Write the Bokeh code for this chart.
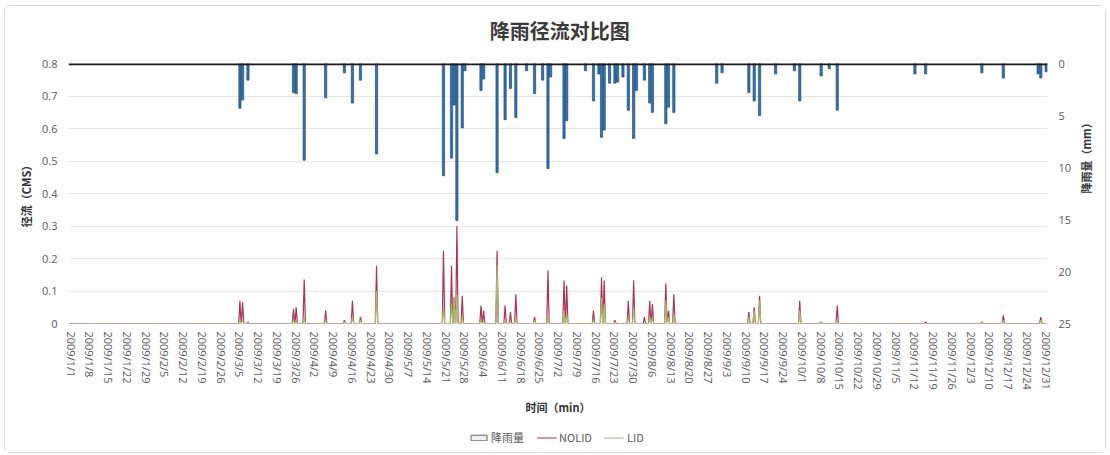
import math
from datetime import date
from bokeh.plotting import figure
from bokeh.layouts import column
from bokeh.core.properties import value
from bokeh.models import (Range1d, LinearAxis, FixedTicker, Legend, LegendItem, Span)
from bokeh.embed import file_html
from bokeh.resources import INLINE

# ---------------- data ----------------
title_text = "降雨径流对比图"

tick_labels = ["2009/1/1", "2009/1/8", "2009/1/15", "2009/1/22", "2009/1/29", "2009/2/5",
               "2009/2/12", "2009/2/19", "2009/2/26", "2009/3/5", "2009/3/12", "2009/3/19",
               "2009/3/26", "2009/4/2", "2009/4/9", "2009/4/16", "2009/4/23", "2009/4/30",
               "2009/5/7", "2009/5/14", "2009/5/21", "2009/5/28", "2009/6/4", "2009/6/11",
               "2009/6/18", "2009/6/25", "2009/7/2", "2009/7/9", "2009/7/16", "2009/7/23",
               "2009/7/30", "2009/8/6", "2009/8/13", "2009/8/20", "2009/8/27", "2009/9/3",
               "2009/9/10", "2009/9/17", "2009/9/24", "2009/10/1", "2009/10/8", "2009/10/15",
               "2009/10/22", "2009/10/29", "2009/11/5", "2009/11/12", "2009/11/19", "2009/11/26",
               "2009/12/3", "2009/12/10", "2009/12/17", "2009/12/24", "2009/12/31"]

rain_dates = ["2009/3/5", "2009/3/6", "2009/3/8", "2009/3/25", "2009/3/26", "2009/3/29",
              "2009/4/6", "2009/4/13", "2009/4/16", "2009/4/19", "2009/4/25",
              "2009/5/20", "2009/5/23", "2009/5/24", "2009/5/25", "2009/5/27", "2009/5/28",
              "2009/6/3", "2009/6/4", "2009/6/9", "2009/6/12", "2009/6/14", "2009/6/16",
              "2009/6/20", "2009/6/23", "2009/6/26", "2009/6/28", "2009/6/29",
              "2009/7/4", "2009/7/5", "2009/7/12", "2009/7/15", "2009/7/17", "2009/7/18",
              "2009/7/19", "2009/7/21", "2009/7/23", "2009/7/24", "2009/7/26", "2009/7/28",
              "2009/7/30", "2009/7/31", "2009/8/3", "2009/8/5", "2009/8/6", "2009/8/11",
              "2009/8/12", "2009/8/14", "2009/8/30", "2009/9/1", "2009/9/11", "2009/9/13",
              "2009/9/15", "2009/9/21", "2009/9/28", "2009/9/30", "2009/10/8", "2009/10/11",
              "2009/10/14", "2009/11/12", "2009/11/16", "2009/12/7", "2009/12/15",
              "2009/12/28", "2009/12/29", "2009/12/31"]
rain_mm = [4.3, 3.5, 1.6, 2.8, 2.9, 9.3,
           3.3, 0.9, 3.8, 1.6, 8.7,
           10.8, 9.1, 4.0, 15.1, 6.2, 0.7,
           2.6, 1.5, 10.5, 5.4, 2.4, 5.2,
           0.7, 2.9, 1.6, 10.1, 1.3,
           7.2, 5.5, 0.7, 3.6, 1.0, 7.1,
           6.4, 1.9, 1.9, 1.8, 1.3, 4.5,
           7.2, 2.6, 1.6, 3.8, 4.7, 5.8,
           4.2, 4.7, 1.9, 0.9, 2.8, 3.6,
           5.0, 1.0, 0.7, 3.6, 1.2, 0.5,
           4.5, 1.0, 1.0, 0.9, 1.4,
           1.0, 1.4, 0.8]

runoff_dates = ["2009/3/5", "2009/3/6", "2009/3/8", "2009/3/25", "2009/3/26", "2009/3/29",
                "2009/4/6", "2009/4/13", "2009/4/16", "2009/4/19", "2009/4/25",
                "2009/5/20", "2009/5/23", "2009/5/24", "2009/5/25", "2009/5/27",
                "2009/6/3", "2009/6/4", "2009/6/9", "2009/6/12", "2009/6/14", "2009/6/16",
                "2009/6/23", "2009/6/28", "2009/7/4", "2009/7/5", "2009/7/15", "2009/7/18",
                "2009/7/19", "2009/7/23", "2009/7/28", "2009/7/30", "2009/8/3", "2009/8/5",
                "2009/8/6", "2009/8/11", "2009/8/12", "2009/8/14", "2009/9/11", "2009/9/13",
                "2009/9/15", "2009/9/30", "2009/10/8", "2009/10/14", "2009/11/16",
                "2009/12/7", "2009/12/15", "2009/12/29"]
nolid_cms = [0.070, 0.065, 0.005, 0.045, 0.050, 0.135,
             0.040, 0.010, 0.070, 0.020, 0.178,
             0.224, 0.178, 0.080, 0.300, 0.085,
             0.055, 0.040, 0.224, 0.055, 0.035, 0.090,
             0.020, 0.163, 0.132, 0.117, 0.040, 0.142,
             0.132, 0.010, 0.070, 0.132, 0.020, 0.070,
             0.060, 0.123, 0.040, 0.090, 0.035, 0.050,
             0.085, 0.070, 0.005, 0.055, 0.005,
             0.005, 0.025, 0.020]
lid_cms = [0.010, 0.010, 0.002, 0.010, 0.010, 0.020,
           0.010, 0.005, 0.020, 0.010, 0.100,
           0.050, 0.060, 0.080, 0.090, 0.020,
           0.010, 0.005, 0.180, 0.010, 0.005, 0.020,
           0.010, 0.030, 0.040, 0.030, 0.010, 0.080,
           0.060, 0.005, 0.020, 0.050, 0.000, 0.020,
           0.020, 0.070, 0.020, 0.030, 0.020, 0.040,
           0.070, 0.040, 0.003, 0.010, 0.000,
           0.003, 0.010, 0.010]

y_ticks = [0, 0.1, 0.2, 0.3, 0.4, 0.5, 0.6, 0.7, 0.8]
rain_ticks = [0, 5, 10, 15, 20, 25]


def doy(s):
    y, m, d = (int(v) for v in s.split("/"))
    return (date(y, m, d) - date(2009, 1, 1)).days


x_ticks = [doy(s) for s in tick_labels]
rain_x = [doy(s) for s in rain_dates]

# spiky runoff lines (zero between events)
lx, ny, ly = [-1.0], [0.0], [0.0]
for d, n, l in sorted(zip([doy(s) for s in runoff_dates], nolid_cms, lid_cms)):
    lx += [d - 0.45, d, d + 0.45]
    ny += [0.0, n, 0.0]
    ly += [0.0, l, 0.0]
lx.append(364.5); ny.append(0.0); ly.append(0.0)

# ---------------- styles ----------------
CJK = "Noto Sans CJK SC"
LAT = "Open Sans"
TICK_C = "#595959"
RAIN_FILL, RAIN_LINE = "#2E75B6", "#1d3d5e"
NOLID_C, LID_C = "#A83456", "#A9BA6E"
W = 1100

# ---------------- title strip ----------------
TH = 47
t = figure(width=W, height=TH, output_backend="svg", toolbar_location=None,
           x_range=Range1d(0, W), y_range=Range1d(TH, 0),
           x_axis_location=None, y_axis_location=None,
           min_border_left=0, min_border_right=0, min_border_top=0, min_border_bottom=0,
           background_fill_color="white", border_fill_color="white")
t.grid.visible = False
t.outline_line_color = None
t.text(x=[552], y=[24], text=[title_text], text_align="center", text_baseline="middle",
       text_font=value(CJK), text_font_size="20px", text_font_style="bold",
       text_color="#3a3a3a")

# ---------------- main figure ----------------
p = figure(width=W, height=373, output_backend="svg", toolbar_location=None,
           x_range=Range1d(-1.0, 364.5), y_range=Range1d(0, 0.8),
           min_border_left=63, min_border_right=52, min_border_top=10, min_border_bottom=103,
           background_fill_color="white", border_fill_color="white")
p.outline_line_color = None
p.extra_y_ranges = {"rain": Range1d(25, 0)}

p.xgrid.visible = False
p.ygrid.ticker = FixedTicker(ticks=y_ticks)
p.ygrid.grid_line_color = "#e6e6e6"
p.ygrid.grid_line_width = 1


def style_axis(ax, label, label_standoff, tick_standoff):
    ax.axis_line_color = None
    ax.major_tick_line_color = None
    ax.minor_tick_line_color = None
    ax.major_tick_out = 0
    ax.major_tick_in = 0
    ax.minor_tick_out = 0
    ax.minor_tick_in = 0
    ax.major_label_text_font = LAT
    ax.major_label_text_font_size = "11px"
    ax.major_label_text_color = TICK_C
    ax.major_label_standoff = tick_standoff
    ax.axis_label = label
    ax.axis_label_text_font = CJK
    ax.axis_label_text_font_size = "11px"
    ax.axis_label_text_font_style = "bold"
    ax.axis_label_text_color = "#333333"
    ax.axis_label_standoff = label_standoff


ya = p.yaxis[0]
ya.ticker = FixedTicker(ticks=y_ticks)
ya.major_label_overrides = {0: "0"}
style_axis(ya, "径流（CMS）", 5, 11)

ra = LinearAxis(y_range_name="rain", ticker=FixedTicker(ticks=rain_ticks))
style_axis(ra, "降雨量（mm）", 12, 11)
if "axis_label_orientation" in ra.properties():
    ra.axis_label_orientation = math.pi / 2
p.add_layout(ra, "right")

xa = p.xaxis[0]
xa.ticker = FixedTicker(ticks=x_ticks)
xa.major_label_overrides = {t_: s for t_, s in zip(x_ticks, tick_labels)}
xa.major_label_orientation = -math.pi / 2
style_axis(xa, "时间（min）", 6, 8)

# rainfall bars hanging from the top
p.vbar(x=rain_x, width=0.85, bottom=0, top=rain_mm, y_range_name="rain",
       fill_color=RAIN_FILL, line_color=RAIN_LINE, line_width=0.6)

# runoff lines
p.line(lx, ny, line_color=NOLID_C, line_width=1.2)
p.line(lx, ly, line_color=LID_C, line_width=1.2)

p.add_layout(Span(location=0.8, dimension="width", line_color="#1a1a1a", line_width=3.5))

# ---------------- legend strip ----------------
nan = float("nan")
q = figure(width=W, height=26, output_backend="svg", toolbar_location=None,
           x_range=Range1d(0, 1), y_range=Range1d(0, 1),
           x_axis_location=None, y_axis_location=None,
           min_border_left=8, min_border_right=0, min_border_top=0, min_border_bottom=4,
           background_fill_color="white", border_fill_color="white")
q.grid.visible = False
q.outline_line_color = None
lg_bar = q.vbar(x=[nan], width=0.1, bottom=[nan], top=[nan],
                fill_color="#eef1f5", line_color="#6b6b6b", line_width=1)
lg_no = q.line([nan], [nan], line_color=NOLID_C, line_width=1.2)
lg_lid = q.line([nan], [nan], line_color=LID_C, line_width=1.2)

legend = Legend(items=[LegendItem(label="降雨量", renderers=[lg_bar]),
                       LegendItem(label="NOLID", renderers=[lg_no]),
                       LegendItem(label="LID", renderers=[lg_lid])],
                orientation="horizontal", location="center",
                label_text_font=CJK, label_text_font_size="11px", label_text_color=TICK_C,
                label_height=12,
                glyph_width=20, glyph_height=7, spacing=12, padding=0, margin=0,
                label_standoff=3, border_line_color=None, background_fill_alpha=0)
q.add_layout(legend, "center")

layout = column(t, p, q, spacing=0)
layout.styles = {"border": "1px solid #d9d9d9", "border-radius": "6px",
                 "margin-left": "4px", "margin-top": "5px", "background": "white"}

open("out.html", "w").write(file_html(layout, INLINE))
